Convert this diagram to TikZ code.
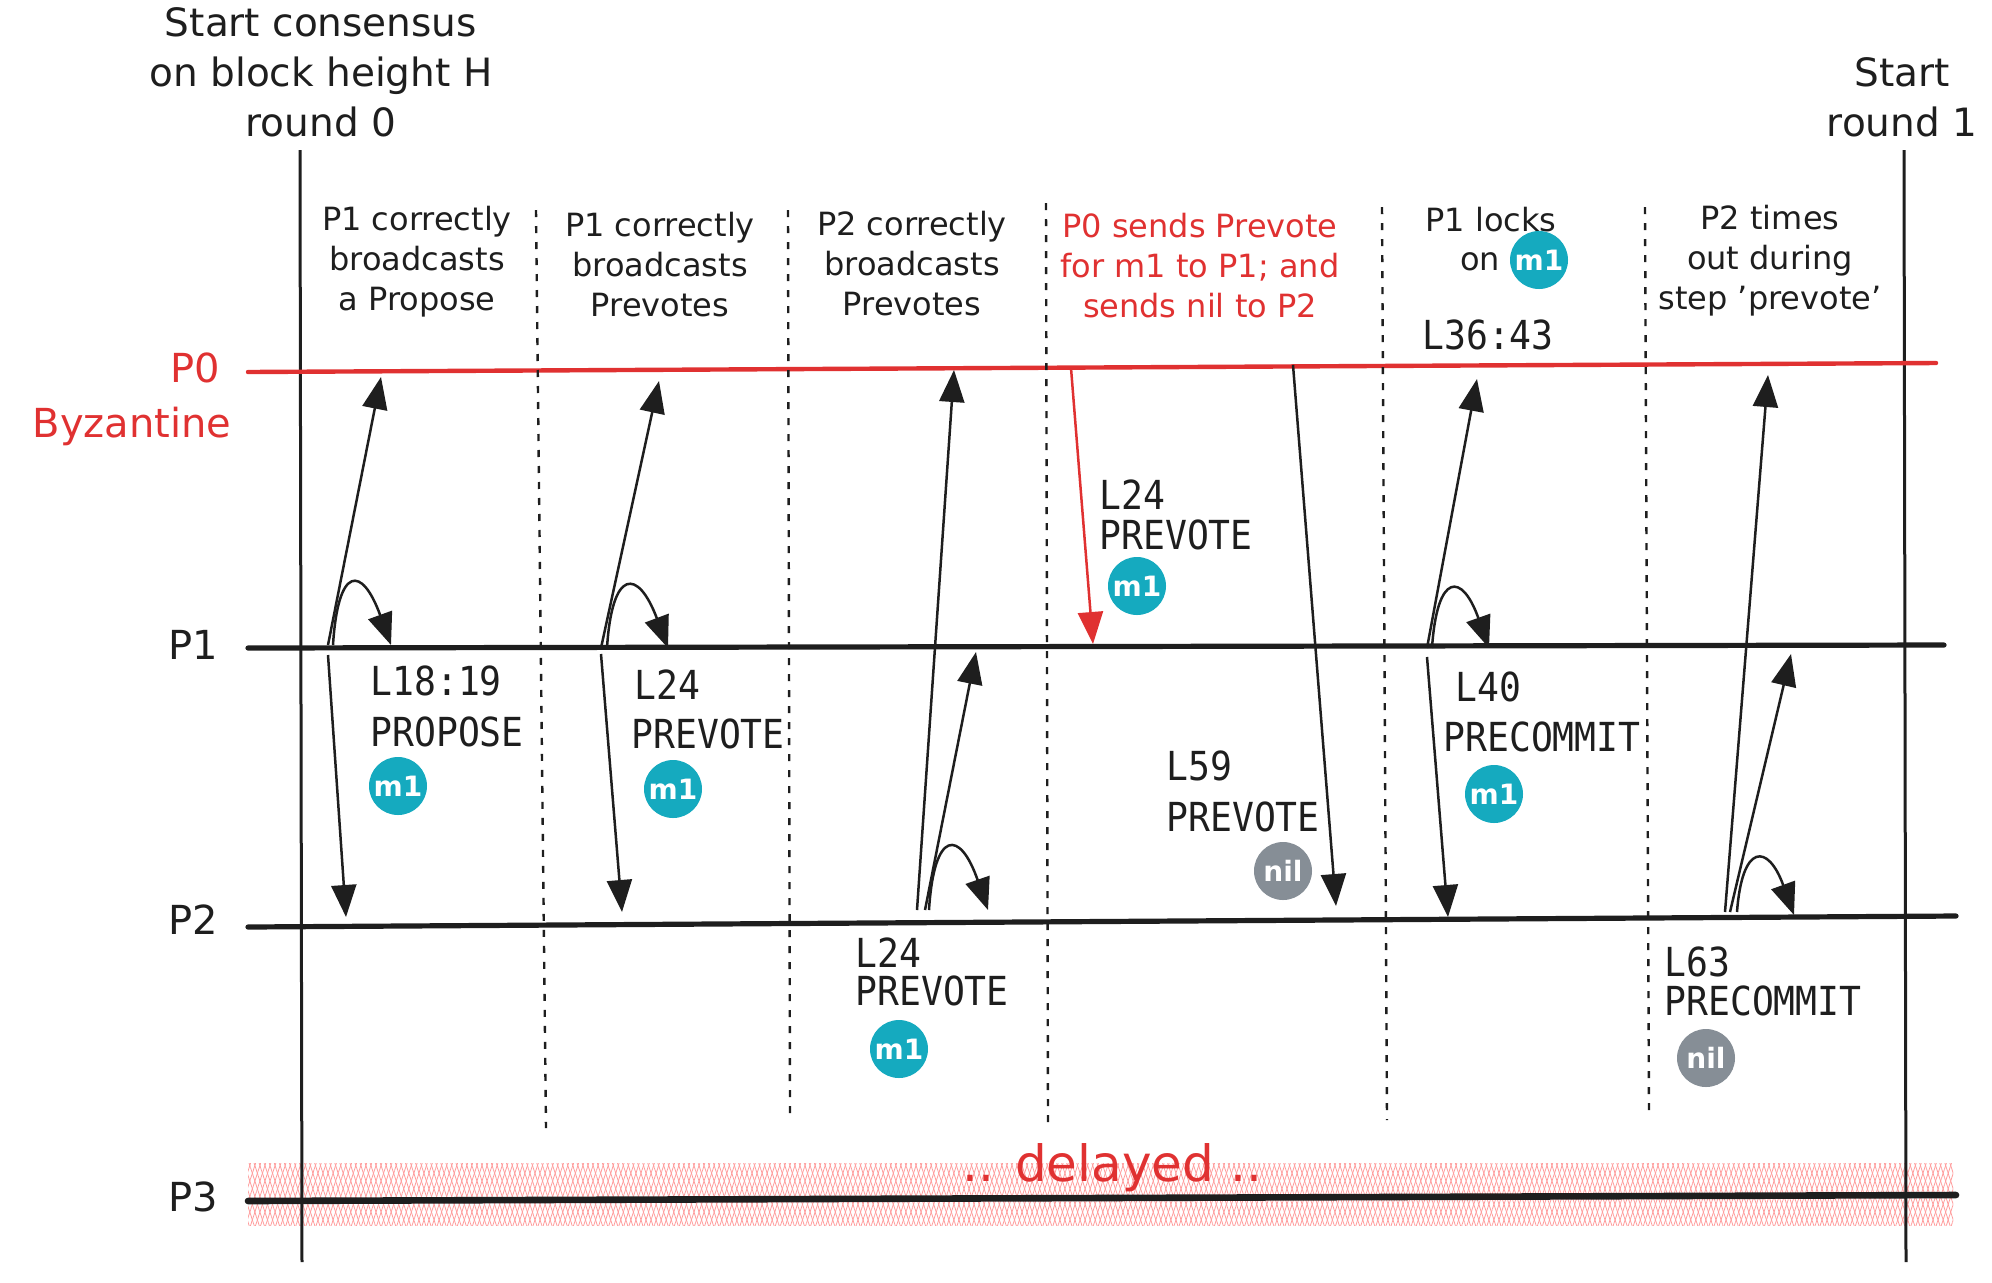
\documentclass[tikz,border=0pt]{standalone}
\usepackage{fontspec}
\setmainfont{DejaVu Sans}
\newfontfamily\codefam[FakeStretch=0.91]{DejaVu Sans Mono}
\usetikzlibrary{arrows.meta,patterns.meta}
\definecolor{ink}{HTML}{1E1E1E}
\definecolor{xred}{HTML}{E03131}
\definecolor{xteal}{HTML}{15AABF}
\definecolor{xgray}{HTML}{868E96}
\definecolor{xpink}{HTML}{FF9C9C}
\newcommand\hdfont{\fontsize{16}{20}\selectfont}
\newcommand\stfont{\fontsize{19.5}{25}\selectfont}
\newcommand\plfont{\fontsize{20}{24}\selectfont}
\newcommand\cdfont{\codefam\fontsize{20}{24}\selectfont}
\newcommand\bdfont{\bfseries\fontsize{14}{14}\selectfont}
\newcommand\dlfont{\fontsize{25}{28}\selectfont}
\begin{document}
\begin{tikzpicture}[x=0.5pt,y=-0.5pt,
  hand/.style={font=\hdfont, align=center, inner sep=0pt, text=ink},
  starttxt/.style={font=\stfont, align=center, inner sep=0pt, text=ink},
  plabel/.style={font=\plfont, inner sep=0pt, anchor=east, text=ink},
  codelbl/.style={font=\cdfont, inner sep=0pt, anchor=west, text=ink},
  badge/.style={circle, fill=xteal, text=white, minimum size=29pt, inner sep=0pt, font=\bdfont},
  nilbadge/.style={badge, fill=xgray},
  timeline/.style={line width=2.6pt, ink, line cap=round},
  roundline/.style={line width=1.5pt, ink},
  sep/.style={line width=1.2pt, ink, dash pattern=on 3.5pt off 4.5pt},
  msg/.style={line width=1.25pt, ink, -{Triangle[length=16pt,width=12.5pt]}},
  redmsg/.style={msg, xred}]
\useasboundingbox (0,0) rectangle (1992,1282);

% --- timelines ---
\coordinate (p0l) at (248,372); \coordinate (p0r) at (1936,363);
\coordinate (p1l) at (248,648); \coordinate (p1r) at (1944,645);
\coordinate (p2l) at (248,927); \coordinate (p2r) at (1956,916);
\coordinate (p3l) at (248,1201); \coordinate (p3r) at (1956,1195);
\coordinate (r0t) at (300,150); \coordinate (r0b) at (302,1262);
\coordinate (r1t) at (1904,150); \coordinate (r1b) at (1906,1262);

% delayed band
\coordinate (bandA) at (248,1163); \coordinate (bandB) at (1953,1225);
\fill[pattern={Lines[angle=72,distance=2.4pt,line width=0.4pt]}, pattern color=xpink] (bandA) rectangle (bandB);
\fill[pattern={Lines[angle=108,distance=2.4pt,line width=0.4pt]}, pattern color=xpink] (bandA) rectangle (bandB);

\draw[roundline] (r0t) -- (r0b);
\draw[roundline] (r1t) -- (r1b);
\draw[line width=2.2pt, xred, line cap=round] (p0l) -- (p0r);
\draw[timeline] (p1l) -- (p1r);
\draw[timeline] (p2l) -- (p2r);
\draw[timeline, line width=3.3pt] (p3l) -- (p3r);

% --- separators ---
\coordinate (s1t) at (536,210); \coordinate (s1b) at (546,1128);
\coordinate (s2t) at (788,210); \coordinate (s2b) at (790,1115);
\coordinate (s3t) at (1046,203); \coordinate (s3b) at (1048,1128);
\coordinate (s4t) at (1382,207); \coordinate (s4b) at (1387,1120);
\coordinate (s5t) at (1645,207); \coordinate (s5b) at (1649,1113);
\foreach \s in {1,...,5} {\draw[sep] (s\s t) -- (s\s b);}

% --- text: top ---
\node[starttxt] (start0) at (321,72) {Start consensus\\on block height H\\round 0};
\node[starttxt] (start1) at (1902,97) {Start\\round 1};

\node[plabel, text=xred] (lp0) at (220,368) {P0};
\node[font=\plfont, inner sep=0pt, text=xred] (byz) at (132,426) {Byzantine};
\node[plabel] (lp1) at (218,645) {P1};
\node[plabel] (lp2) at (218,920) {P2};
\node[plabel] (lp3) at (218,1197) {P3};

\node[hand] (h1) at (417,262) {P1 correctly\\broadcasts\\a Propose};
\node[hand] (h2) at (660,265) {P1 correctly\\broadcasts\\Prevotes};
\node[hand] (h3) at (912,264) {P2 correctly\\broadcasts\\Prevotes};
\node[hand, text=xred] (h4) at (1200,266) {P0 sends Prevote\\for m1 to P1; and\\sends nil to P2};
\node[hand] (h5a) at (1491,220) {P1 locks};
\node[hand] (h5b) at (1480,262) {on};
\node[badge] (b8) at (1539,260) {m1};
\node[codelbl, anchor=center] (c36) at (1488,335) {L36:43};
\node[hand] (h6) at (1770,261) {P2 times\\out during\\step 'prevote'};

% --- message endpoints ---
\coordinate (a1s) at (328,645); \coordinate (a1e) at (381,377);
\coordinate (a1cs) at (333,645); \coordinate (a1ce) at (391,645);
\coordinate (a1ds) at (328,655); \coordinate (a1de) at (346,917);

\coordinate (a2s) at (601,648); \coordinate (a2e) at (659,381);
\coordinate (a2cs) at (607,648); \coordinate (a2ce) at (668,648);
\coordinate (a2ds) at (601,654); \coordinate (a2de) at (622,912);

\coordinate (a3s) at (917,910); \coordinate (a3e) at (954,370);
\coordinate (a3ts) at (925,910); \coordinate (a3te) at (976,652);
\coordinate (a3cs) at (929,910); \coordinate (a3ce) at (988,910);

\coordinate (a4s) at (1071,368); \coordinate (a4e) at (1093,644);
\coordinate (a4bs) at (1293,365); \coordinate (a4be) at (1336,906);

\coordinate (a5s) at (1427,648); \coordinate (a5e) at (1477,379);
\coordinate (a5cs) at (1432,648); \coordinate (a5ce) at (1489,648);
\coordinate (a5ds) at (1427,657); \coordinate (a5de) at (1448,917);

\coordinate (a6s) at (1725,912); \coordinate (a6e) at (1768,375);
\coordinate (a6ts) at (1730,912); \coordinate (a6te) at (1791,654);
\coordinate (a6cs) at (1737,912); \coordinate (a6ce) at (1794,915);

% --- messages ---
\draw[msg] (a1s) -- (a1e);
\draw[msg] (a1cs) .. controls (338,565) and (362,565) .. (a1ce);
\draw[msg] (a1ds) -- (a1de);

\draw[msg] (a2s) -- (a2e);
\draw[msg] (a2cs) .. controls (612,568) and (638,568) .. (a2ce);
\draw[msg] (a2ds) -- (a2de);

\draw[msg] (a3s) -- (a3e);
\draw[msg] (a3ts) -- (a3te);
\draw[msg] (a3cs) .. controls (934,829) and (960,829) .. (a3ce);

\draw[redmsg] (a4s) -- (a4e);
\draw[msg] (a4bs) -- (a4be);

\draw[msg] (a5s) -- (a5e);
\draw[msg] (a5cs) .. controls (1437,572) and (1462,572) .. (a5ce);
\draw[msg] (a5ds) -- (a5de);

\draw[msg] (a6s) -- (a6e);
\draw[msg] (a6ts) -- (a6te);
\draw[msg] (a6cs) .. controls (1742,843) and (1768,843) .. (a6ce);

% --- code labels ---
\node[codelbl] (c1a) at (370,681) {L18:19};
\node[codelbl] (c1b) at (370,732) {PROPOSE};
\node[badge] (b1) at (398,786) {m1};

\node[codelbl] (c2a) at (634,685) {L24};
\node[codelbl] (c2b) at (631,734) {PREVOTE};
\node[badge] (b2) at (673,789) {m1};

\node[codelbl] (c3a) at (855,953) {L24};
\node[codelbl] (c3b) at (855,991) {PREVOTE};
\node[badge] (b3) at (899,1049) {m1};

\node[codelbl] (c4a) at (1099,495) {L24};
\node[codelbl] (c4b) at (1099,535) {PREVOTE};
\node[badge] (b4) at (1137,586) {m1};

\node[codelbl] (c5a) at (1166,766) {L59};
\node[codelbl] (c5b) at (1166,817) {PREVOTE};
\node[nilbadge] (b5) at (1283,871) {nil};

\node[codelbl] (c6a) at (1455,687) {L40};
\node[codelbl] (c6b) at (1443,737) {PRECOMMIT};
\node[badge] (b6) at (1494,794) {m1};

\node[codelbl] (c7a) at (1664,962) {L63};
\node[codelbl] (c7b) at (1664,1001) {PRECOMMIT};
\node[nilbadge] (b7) at (1706,1058) {nil};

% delayed
\node[font=\dlfont, text=xred, inner sep=0pt] (dl) at (1112,1168) {.. delayed ..};
\end{tikzpicture}
\end{document}
